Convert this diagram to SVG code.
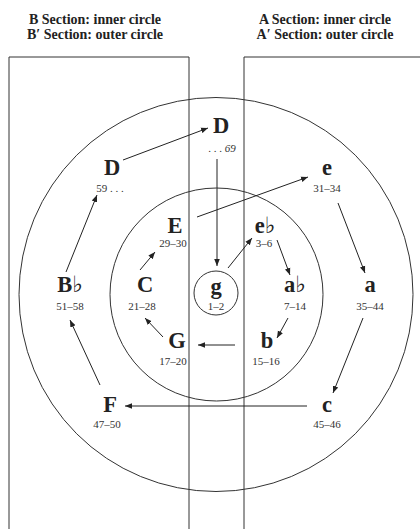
<svg xmlns="http://www.w3.org/2000/svg" width="420" height="529" viewBox="0 0 420 529">
<defs>
<style>
.ln{fill:none;stroke:#333;stroke-width:1}
.ar{fill:none;stroke:#222;stroke-width:1;marker-end:url(#ah)}
.hd{font-family:"Liberation Serif","DejaVu Serif",serif;font-weight:bold;font-size:14px;fill:#222;text-anchor:middle}
.nt{font-family:"Liberation Serif","DejaVu Serif",serif;font-weight:bold;font-size:22.5px;fill:#222;text-anchor:middle}
.nm{font-family:"Liberation Serif","DejaVu Serif",serif;font-size:11px;fill:#333;text-anchor:middle}
</style>
<marker id="ah" viewBox="0 0 10 10" refX="10" refY="5" markerWidth="7" markerHeight="7" markerUnits="userSpaceOnUse" orient="auto">
<path d="M0,1 L10,5 L0,9 Z" fill="#222"/>
</marker>
</defs>
<rect width="420" height="529" fill="#fff"/>
<g id="headers">
<text class="hd" x="95" y="24">B Section: inner circle</text>
<text class="hd" x="95" y="39">B′ Section: outer circle</text>
<text class="hd" x="325" y="24">A Section: inner circle</text>
<text class="hd" x="325" y="39">A′ Section: outer circle</text>
</g>
<g id="frames">
<path class="ln" d="M9,529 V57 H189 V529"/>
<path class="ln" d="M244,529 V57 H421"/>
<circle class="ln" cx="216" cy="294.5" r="197"/>
<circle class="ln" cx="216.5" cy="294.5" r="106.5"/>
</g>
<g id="connectors">
<line class="ar" x1="123" y1="160" x2="208" y2="128"/>
<line class="ar" x1="217" y1="159" x2="217" y2="266"/>
<line class="ar" x1="228" y1="268" x2="252" y2="238"/>
<line class="ar" x1="277" y1="240" x2="290" y2="275"/>
<line class="ar" x1="288" y1="318" x2="277" y2="338"/>
<line class="ar" x1="235" y1="345" x2="198" y2="345"/>
<line class="ar" x1="163" y1="337" x2="145" y2="318"/>
<line class="ar" x1="140" y1="270" x2="155" y2="252"/>
<line class="ar" x1="197" y1="217" x2="308" y2="177"/>
<line class="ar" x1="338" y1="203" x2="365" y2="273"/>
<line class="ar" x1="363" y1="318" x2="333" y2="393"/>
<line class="ar" x1="307" y1="406" x2="125" y2="406"/>
<line class="ar" x1="100" y1="385" x2="70" y2="320"/>
<line class="ar" x1="66" y1="272" x2="97" y2="195"/>
</g>
<g id="node-D-top"><text class="nt" x="221" y="133">D</text><text class="nm" x="222" y="152">. . . <tspan font-style="italic">69</tspan></text></g>
<g id="node-D-left"><text class="nt" x="112" y="175">D</text><text class="nm" x="110" y="192">59 . . .</text></g>
<g id="node-e"><text class="nt" x="327" y="175">e</text><text class="nm" x="327" y="192">31–34</text></g>
<g id="node-E"><text class="nt" x="175" y="233">E</text><text class="nm" x="173" y="247">29–30</text></g>
<g id="node-eb"><text class="nt" x="265" y="233">e♭</text><text class="nm" x="264" y="247">3–6</text></g>
<g id="node-Bb"><text class="nt" x="70" y="292">B♭</text><text class="nm" x="70" y="310">51–58</text></g>
<g id="node-C"><text class="nt" x="145" y="292">C</text><text class="nm" x="142" y="310">21–28</text></g>
<g id="node-g"><circle class="ln" cx="216" cy="293" r="22"/><text class="nt" x="216" y="294">g</text><text class="nm" x="216" y="310">1–2</text></g>
<g id="node-ab"><text class="nt" x="295" y="292">a♭</text><text class="nm" x="295" y="310">7–14</text></g>
<g id="node-a"><text class="nt" x="370" y="292">a</text><text class="nm" x="370" y="310">35–44</text></g>
<g id="node-G"><text class="nt" x="177" y="348">G</text><text class="nm" x="173" y="365">17–20</text></g>
<g id="node-b"><text class="nt" x="267" y="348">b</text><text class="nm" x="266" y="365">15–16</text></g>
<g id="node-F"><text class="nt" x="110" y="412">F</text><text class="nm" x="107" y="428">47–50</text></g>
<g id="node-c"><text class="nt" x="327" y="412">c</text><text class="nm" x="327" y="428">45–46</text></g>
</svg>
